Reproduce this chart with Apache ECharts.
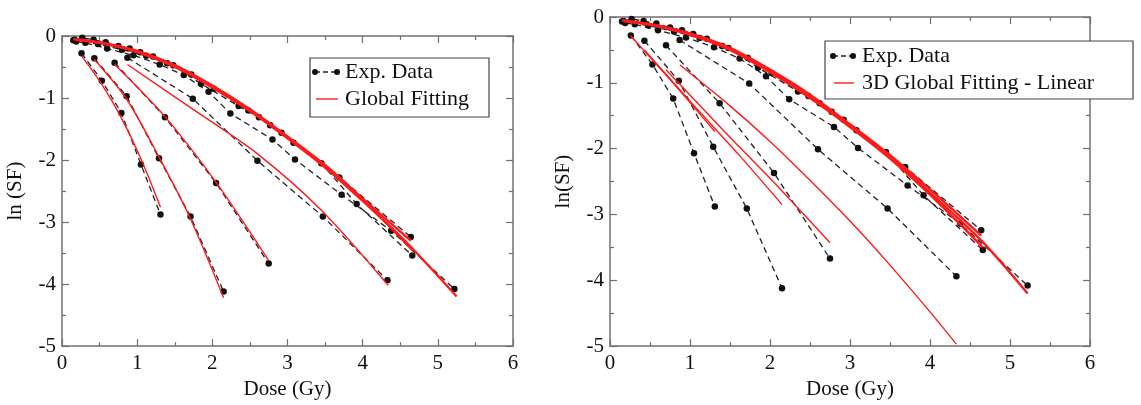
<!DOCTYPE html>
<html>
<head>
<meta charset="utf-8" />
<script src="https://cdn.jsdelivr.net/npm/echarts@6/dist/echarts.min.js"></script>
<style>
  html, body { margin: 0; padding: 0; background: #fff; }
  #main { width: 1141px; height: 405px; }
</style>
</head>
<body>
<div id="main"></div>
<script>
// experimental data (dose Gy, ln SF) - same points in both panels
const expA = [[0.26,-0.28],[0.53,-0.72],[0.79,-1.24],[1.05,-2.07],[1.31,-2.88]];
const expB = [[0.43,-0.36],[0.86,-0.97],[1.29,-1.97],[1.71,-2.91],[2.15,-4.12]];
const expC = [[0.70,-0.43],[1.37,-1.31],[2.05,-2.37],[2.75,-3.67]];
const expD = [[0.87,-0.35],[1.74,-1.01],[2.60,-2.01],[3.47,-2.91],[4.33,-3.94]];
const expE = [[0.17,-0.06],[0.27,-0.03],[0.42,-0.06],[0.58,-0.10],[0.75,-0.16],[0.90,-0.20],[1.04,-0.26],[1.21,-0.33],[1.48,-0.47],[1.85,-0.77],[2.35,-1.13],[2.62,-1.31],[2.92,-1.56],[3.69,-2.28],[4.64,-3.24]];
const expF = [[0.19,-0.09],[0.31,-0.11],[0.60,-0.20],[0.95,-0.31],[1.30,-0.46],[1.62,-0.63],[1.95,-0.90],[2.24,-1.25],[2.80,-1.67],[3.10,-1.99],[3.72,-2.56],[4.38,-3.14],[5.22,-4.08]];
const expG = [[0.15,-0.07],[0.48,-0.13],[0.80,-0.22],[1.12,-0.32],[1.40,-0.44],[1.72,-0.62],[2.02,-0.85],[2.48,-1.20],[2.77,-1.44],[3.08,-1.72],[3.45,-2.05],[3.92,-2.71],[4.66,-3.54]];

// left panel: global fitting
const fitLA = [[0.26,-0.32],[0.53,-0.78],[0.79,-1.32],[1.05,-1.98],[1.31,-2.76]];
const fitLB = [[0.43,-0.38],[0.86,-1.02],[1.29,-1.95],[1.71,-2.95],[2.15,-4.22]];
const fitLC = [[0.70,-0.46],[1.37,-1.30],[2.05,-2.36],[2.75,-3.62]];
const fitLD = [[0.87,-0.46],[1.74,-1.18],[2.60,-1.90],[3.46,-2.82],[4.34,-4.02]];
const fitLE = [[0.17,-0.05],[0.5,-0.10],[1.0,-0.24],[1.5,-0.47],[2.0,-0.80],[2.5,-1.18],[3.0,-1.62],[3.5,-2.08],[4.0,-2.62],[4.64,-3.30]];
const fitLF = [[0.19,-0.06],[0.6,-0.13],[1.0,-0.26],[1.5,-0.50],[2.0,-0.83],[2.5,-1.21],[3.0,-1.65],[3.5,-2.12],[4.0,-2.66],[4.6,-3.35],[5.25,-4.20]];
const fitLG = [[0.15,-0.05],[0.5,-0.11],[1.0,-0.25],[1.5,-0.48],[2.0,-0.82],[2.5,-1.20],[3.0,-1.64],[3.5,-2.10],[4.0,-2.64],[4.66,-3.45]];

// right panel: 3D global fitting - linear
const fitRA = [[0.26,-0.29],[0.80,-1.02],[1.31,-1.74]];
const fitRB = [[0.43,-0.50],[1.0,-1.28],[1.6,-2.08],[2.15,-2.85]];
const fitRC = [[0.70,-0.80],[1.4,-1.70],[2.1,-2.58],[2.75,-3.43]];
const fitRD = [[0.875,-0.73],[1.5,-1.35],[2.0,-1.89],[2.5,-2.48],[3.0,-3.10],[3.5,-3.77],[4.0,-4.48],[4.33,-4.97]];
const fitRE = [[0.17,-0.06],[0.5,-0.11],[1.0,-0.25],[1.5,-0.47],[2.0,-0.80],[2.5,-1.18],[3.0,-1.63],[3.5,-2.10],[4.0,-2.62],[4.64,-3.32]];
const fitRF = [[0.19,-0.07],[0.6,-0.13],[1.0,-0.26],[1.5,-0.49],[2.0,-0.83],[2.5,-1.22],[3.0,-1.66],[3.5,-2.13],[4.0,-2.67],[4.66,-3.42],[5.22,-4.20]];
const fitRG = [[0.15,-0.05],[0.5,-0.12],[1.0,-0.27],[1.5,-0.50],[2.0,-0.84],[2.5,-1.23],[3.0,-1.67],[3.5,-2.15],[4.0,-2.70],[4.66,-3.50]];

const expAll = [expA, expB, expC, expD, expE, expF, expG];
const fitsLeft = [fitLA, fitLB, fitLC, fitLD, fitLE, fitLF, fitLG];
const fitsRight = [fitRA, fitRB, fitRC, fitRD, fitRE, fitRF, fitRG];

const FONT = "Liberation Serif";
const AXC = "#707070";
const RED = "#ff1a1a";

let myChart = echarts.init(document.getElementById("main"));

const xAx = (grid, pos, label) => ({
  type: "value",
  gridIndex: grid,
  position: pos,
  min: 0,
  max: 6,
  interval: 1,
  name: label ? "Dose (Gy)" : "",
  nameLocation: "middle",
  nameGap: 21,
  nameTextStyle: { fontFamily: FONT, fontSize: 21, color: "#111" },
  axisLine: { show: true, onZero: false, lineStyle: { color: AXC, width: 1.5 } },
  axisTick: { show: true, inside: true, length: 7, lineStyle: { color: AXC, width: 1.2 } },
  minorTick: { show: true, splitNumber: 2, length: 4, lineStyle: { color: AXC, width: 1.2 } },
  axisLabel: { show: label, margin: 7, fontFamily: FONT, fontSize: 21, color: "#111" },
  splitLine: { show: false },
});

const yAx = (grid, pos, label, name, gap) => ({
  type: "value",
  gridIndex: grid,
  position: pos,
  min: -5,
  max: 0,
  interval: 1,
  name: label ? name : "",
  nameLocation: "middle",
  nameGap: gap,
  nameTextStyle: { fontFamily: FONT, fontSize: 21, color: "#111" },
  axisLine: { show: true, onZero: false, lineStyle: { color: AXC, width: 1.5 } },
  axisTick: { show: true, inside: true, length: 7, lineStyle: { color: AXC, width: 1.2 } },
  minorTick: { show: true, splitNumber: 2, length: 4, lineStyle: { color: AXC, width: 1.2 } },
  axisLabel: { show: label, margin: 6, fontFamily: FONT, fontSize: 21, color: "#111" },
  splitLine: { show: false },
});

const expSeries = (data, axis) => ({
  name: "Exp. Data",
  type: "line",
  xAxisIndex: axis,
  yAxisIndex: axis,
  data: data,
  symbol: "circle",
  symbolSize: 6.5,
  itemStyle: { color: "#111" },
  lineStyle: { color: "#222", width: 1.3, type: [6, 4] },
  z: 2,
});

// the dense low-LET curves (index >= 4) overlap into a thick red band
const fitSeries = (data, axis, name, idx) => ({
  name: name,
  type: "line",
  xAxisIndex: axis,
  yAxisIndex: axis,
  data: data,
  smooth: 0.3,
  showSymbol: false,
  lineStyle: { color: RED, width: idx >= 4 ? 2.4 : 1.4 },
  z: 3,
});

let series = [];
expAll.forEach((d) => series.push(expSeries(d, 0)));
fitsLeft.forEach((d, i) => series.push(fitSeries(d, 0, "Global Fitting", i)));
expAll.forEach((d) => series.push(expSeries(d, 2)));
fitsRight.forEach((d, i) => series.push(fitSeries(d, 2, "3D Global Fitting - Linear", i)));

// legend boxes (drawn by hand to get the dot-dash-dot sample)
const legendBox = (x, y, w, h, y1, y2, lx1, lx2, tx, label2) => [
  { type: "rect", z: 100, shape: { x: x, y: y, width: w, height: h },
    style: { fill: "#fff", stroke: "#444", lineWidth: 1.2 } },
  { type: "line", z: 101, shape: { x1: lx1, y1: y1, x2: lx2, y2: y1 },
    style: { stroke: "#222", lineWidth: 1.3, lineDash: [5, 3] } },
  { type: "circle", z: 101, shape: { cx: lx1, cy: y1, r: 3 }, style: { fill: "#111" } },
  { type: "circle", z: 101, shape: { cx: lx2, cy: y1, r: 3 }, style: { fill: "#111" } },
  { type: "text", z: 101, x: tx, y: y1,
    style: { text: "Exp. Data", fontFamily: FONT, fontSize: 22, fill: "#111", verticalAlign: "middle" } },
  { type: "line", z: 101, shape: { x1: lx1 + 1, y1: y2, x2: lx2 + 1, y2: y2 },
    style: { stroke: RED, lineWidth: 1.4 } },
  { type: "text", z: 101, x: tx, y: y2,
    style: { text: label2, fontFamily: FONT, fontSize: 22, fill: "#111", verticalAlign: "middle" } },
];

let option = {
  animation: false,
  backgroundColor: "#fff",
  grid: [
    { left: 62, top: 36, width: 451, height: 316 },
    { left: 610, top: 17, width: 480, height: 335 },
  ],
  xAxis: [xAx(0, "bottom", true), xAx(0, "top", false), xAx(1, "bottom", true), xAx(1, "top", false)],
  yAxis: [
    yAx(0, "left", true, "ln (SF)", 36),
    yAx(0, "right", false, "", 0),
    yAx(1, "left", true, "ln(SF)", 36),
    yAx(1, "right", false, "", 0),
  ],
  series: series,
  graphic: [
    ...legendBox(310, 58, 179, 59, 72, 99, 315, 337, 345, "Global Fitting"),
    ...legendBox(825, 41, 308, 58, 56, 83, 833, 853, 862, "3D Global Fitting - Linear"),
  ],
};
myChart.setOption(option, true);
</script>
</body>
</html>
